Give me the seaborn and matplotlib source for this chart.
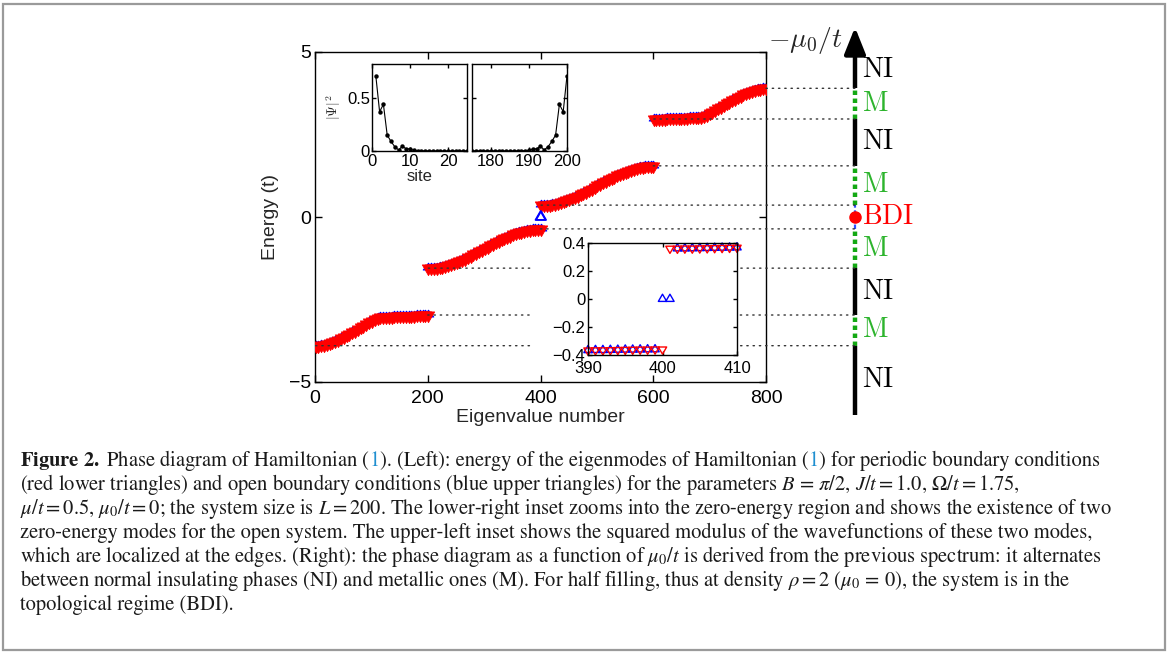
import matplotlib
matplotlib.use("Agg")
import matplotlib.pyplot as plt
import seaborn as sns
import numpy as np
import pandas as pd
from matplotlib.patches import ConnectionPatch, Rectangle
from matplotlib.path import Path
from matplotlib.ticker import FuncFormatter

# ---------------- data ----------------
band1_n = list(range(1, 197, 5)) + [200]
band1_E = [-3.90, -3.90, -3.89, -3.87, -3.85, -3.83, -3.80, -3.76, -3.72, -3.68,
           -3.64, -3.59, -3.54, -3.49, -3.44, -3.39, -3.34, -3.29, -3.24, -3.19,
           -3.15, -3.10, -3.06, -3.04, -3.03, -3.02, -3.02, -3.02, -3.01, -3.01,
           -3.00, -3.00, -3.00, -2.99, -2.99, -2.99, -2.98, -2.98, -2.98, -2.97, -2.97]
band2_n = list(range(201, 397, 5)) + [400]
band2_E = [-1.550, -1.547, -1.541, -1.531, -1.518, -1.501, -1.481, -1.457, -1.431, -1.401,
           -1.369, -1.334, -1.297, -1.258, -1.217, -1.174, -1.130, -1.085, -1.039, -0.992,
           -0.946, -0.899, -0.853, -0.807, -0.762, -0.719, -0.677, -0.636, -0.598, -0.562,
           -0.528, -0.497, -0.468, -0.443, -0.421, -0.402, -0.386, -0.374, -0.366, -0.361, -0.360]
band3_n = list(range(401, 597, 5)) + [600]
band3_E = [0.360, 0.362, 0.367, 0.376, 0.389, 0.405, 0.425, 0.448, 0.474, 0.503,
           0.535, 0.569, 0.605, 0.644, 0.685, 0.728, 0.771, 0.816, 0.862, 0.908,
           0.955, 1.001, 1.048, 1.094, 1.139, 1.183, 1.225, 1.266, 1.305, 1.341,
           1.375, 1.407, 1.436, 1.462, 1.486, 1.505, 1.522, 1.534, 1.543, 1.548, 1.550]
band4_n = [601] + list(range(605, 800, 5)) + [800]
band4_E = [2.97, 2.97, 2.98, 2.98, 2.98, 2.99, 2.99, 2.99, 3.00, 3.00,
           3.00, 3.01, 3.01, 3.02, 3.02, 3.02, 3.03, 3.04, 3.06, 3.10,
           3.15, 3.19, 3.24, 3.29, 3.34, 3.39, 3.44, 3.49, 3.54, 3.59,
           3.64, 3.68, 3.72, 3.76, 3.80, 3.83, 3.85, 3.87, 3.89, 3.90, 3.90]

# open-boundary zero modes
zero_n = [400, 401]
zero_E = [0.0, 0.0]

# lower-right inset (eigenvalues 390..410)
pbc_zoom_n = list(range(390, 411))
pbc_zoom_E = [-0.367, -0.366, -0.366, -0.365, -0.364, -0.363, -0.362, -0.361, -0.361, -0.360, -0.360,
              0.360, 0.360, 0.361, 0.361, 0.362, 0.363, 0.364, 0.365, 0.366, 0.367]
obc_zoom_n = list(range(390, 411))
obc_zoom_E = [-0.366, -0.365, -0.365, -0.364, -0.363, -0.362, -0.362, -0.361, -0.360, -0.360,
              0.0, 0.0,
              0.361, 0.361, 0.362, 0.363, 0.364, 0.365, 0.366, 0.367, 0.368]

# upper-left inset: |Psi|^2 of the two zero modes
site_left = list(range(1, 26))
psi_left = [0.71, 0.37, 0.44, 0.15, 0.09, 0.04, 0.01, 0.045, 0.02, 0.02,
            0.005, 0.003, 0.002, 0.001, 0.001, 0.0, 0.0, 0.0, 0.0, 0.0,
            0.0, 0.0, 0.0, 0.0, 0.0]
site_right = list(range(175, 201))
psi_right = [0.0, 0.0, 0.0, 0.0, 0.0, 0.0, 0.0, 0.0, 0.0, 0.0,
             0.0, 0.001, 0.001, 0.002, 0.003, 0.005, 0.02, 0.02, 0.045, 0.01,
             0.04, 0.09, 0.15, 0.44, 0.37, 0.71]

main_xticks = [0, 200, 400, 600, 800]
main_yticks = [-5, 0, 5]
zoom_xticks = [390, 400, 410]
zoom_yticks = [-0.4, -0.2, 0, 0.2, 0.4]

phase_labels = ["NI", "M", "NI", "M", "BDI", "M", "NI", "M", "NI"]

caption_lines = [
    [(r"$\mathbf{Figure\ 2.}$ Phase diagram of Hamiltonian (", "k"), ("1", "#1f8fd0"),
     ("). (Left): energy of the eigenmodes of Hamiltonian (", "k"), ("1", "#1f8fd0"),
     (") for periodic boundary conditions", "k")],
    [(r"(red lower triangles) and open boundary conditions (blue upper triangles) for the parameters $B\,=\,\pi/2$, $J/t=1.0$, $\Omega/t=1.75$,", "k")],
    [(r"$\mu/t=0.5$, $\mu_0/t=0$; the system size is $L=200$. The lower-right inset zooms into the zero-energy region and shows the existence of two", "k")],
    [("zero-energy modes for the open system. The upper-left inset shows the squared modulus of the wavefunctions of these two modes,", "k")],
    [(r"which are localized at the edges. (Right): the phase diagram as a function of $\mu_0/t$ is derived from the previous spectrum: it alternates", "k")],
    [(r"between normal insulating phases (NI) and metallic ones (M). For half filling, thus at density $\rho=2$ ($\mu_0\,=\,0$), the system is in the", "k")],
    [("topological regime (BDI).", "k")],
]

# ---------------- style ----------------
sns.set_theme(style="white")
plt.rcParams["font.family"] = ["Liberation Sans", "DejaVu Sans"]
plt.rcParams.update({
    "mathtext.fontset": "stix",
    "xtick.direction": "in", "ytick.direction": "in",
    "xtick.top": True, "ytick.right": True,
    "xtick.bottom": True, "ytick.left": True,
    "axes.edgecolor": "black", "axes.linewidth": 1.0,
    "xtick.color": "black", "ytick.color": "black",
})

W, H = 1168, 655
fig = plt.figure(figsize=(W / 100, H / 100), dpi=100)
fig.patch.set_facecolor("white")

def fx(px):
    return px / W

def fy(py):
    return 1 - py / H

BLUE = "#0000ff"
RED = "#ff0000"
GREEN = "#13a813"

# triangles positioned on their centroid (like the original plotting program)
up_tri = Path([(-0.866, -0.5), (0.866, -0.5), (0.0, 1.0), (-0.866, -0.5)], closed=True)
down_tri = Path([(-0.866, 0.5), (0.866, 0.5), (0.0, -1.0), (-0.866, 0.5)], closed=True)
up_tri_main = Path([(-1.0, -0.29), (1.0, -0.29), (0.0, 1.0), (-1.0, -0.29)], closed=True)

# ---------------- main axes ----------------
ax_l, ax_b, ax_w, ax_h = fx(315), fy(382), (766 - 315) / W, (382 - 52) / H
ax = fig.add_axes([ax_l, ax_b, ax_w, ax_h])
ax.set_zorder(0)

bands = pd.DataFrame({
    "n": band1_n + band2_n + band3_n + band4_n,
    "E": band1_E + band2_E + band3_E + band4_E,
})
sns.scatterplot(data=bands, x="n", y="E", ax=ax, marker=up_tri_main, s=60,
                color=BLUE, edgecolor=BLUE, linewidth=0.6, zorder=2)
sns.scatterplot(data=bands, x="n", y="E", ax=ax, marker=down_tri, s=105,
                color=RED, edgecolor=RED, linewidth=0.6, zorder=3)
sns.scatterplot(x=zero_n, y=zero_E, ax=ax, marker=up_tri, s=70,
                color=BLUE, facecolors="none", edgecolor=BLUE, linewidth=1.2, zorder=3)

ax.set_xlim(0, 800)
ax.set_ylim(-5, 5)
ax.set_xticks(main_xticks)
ax.set_yticks(main_yticks)
ax.tick_params(axis="x", labelsize=14, length=5, width=1, pad=6)
ax.tick_params(axis="y", labelsize=14, length=5, width=1, pad=3)
ax.set_xlabel("Eigenvalue number", fontsize=14, labelpad=1)
ax.set_ylabel("Energy (t)", fontsize=14, labelpad=7)
for s in ax.spines.values():
    s.set_linewidth(1.0)

# ---------------- phase-diagram axis ----------------
axp = fig.add_axes([fx(855), ax_b, 0.05, ax_h], sharey=ax)
axp.set_xlim(0, 1)
axp.axis("off")

edges_n = [band1_n[0], band1_n[-1], band2_n[0], band2_n[-1],
           band3_n[0], band3_n[-1], band4_n[0], band4_n[-1]]
edges_E = [band1_E[0], band1_E[-1], band2_E[0], band2_E[-1],
           band3_E[0], band3_E[-1], band4_E[0], band4_E[-1]]

bottom_E, top_line_E, tip_E = -6.0, 5.05, 5.75
bounds = [bottom_E] + edges_E + [5.0]
kinds = ["NI", "M", "NI", "M", "GAP", "M", "NI", "M", "NI"]

for i, kind in enumerate(kinds):
    lo, hi = bounds[i], bounds[i + 1]
    if kind == "NI":
        if i == len(kinds) - 1:
            hi = top_line_E
        axp.plot([0, 0], [lo, hi], color="black", lw=3.2, solid_capstyle="butt",
                 clip_on=False, zorder=2)
    elif kind == "M":
        axp.plot([0, 0], [lo, hi], color=GREEN, lw=3.2, dashes=(1.0, 0.8),
                 dash_capstyle="butt", clip_on=False, zorder=2)
    else:
        axp.plot([0, 0], [lo, hi], color="#3050ff", lw=1.6, dashes=(2.0, 1.2),
                 clip_on=False, zorder=2)

axp.annotate("", xy=(0, tip_E), xytext=(0, 4.9),
             arrowprops=dict(arrowstyle="-|>,head_length=0.8,head_width=0.32",
                             color="black", lw=3.2, mutation_scale=20,
                             shrinkA=0, shrinkB=0),
             annotation_clip=False)
axp.plot([0], [0], marker="o", ms=8, color=RED, clip_on=False, zorder=4)

label_colors = {"NI": "black", "M": "#2db42d", "BDI": RED}
label_y = []
for i, kind in enumerate(kinds):
    lo, hi = bounds[i], bounds[i + 1]
    label_y.append(0.5 * (lo + hi) if kind != "GAP" else 0.0)
for lab, yv in zip(phase_labels, label_y):
    axp.annotate(r"$\mathrm{%s}$" % lab, xy=(0, yv), xytext=(5, 0),
                 textcoords="offset points", ha="left", va="center",
                 fontsize=20, color=label_colors[lab], math_fontfamily="cm",
                 annotation_clip=False)
axp.annotate(r"$-\mu_0/t$", xy=(0, 5.36), xytext=(-9, 0), textcoords="offset points",
             ha="right", va="center", fontsize=20, math_fontfamily="cm",
             annotation_clip=False)

# dotted connecting lines
for n0, e in zip(edges_n, edges_E):
    con = ConnectionPatch(xyA=(n0, e), coordsA=ax.transData,
                          xyB=(0, e), coordsB=axp.transData,
                          color="#333333", lw=1.0, linestyle=(0, (1, 3.5)),
                          zorder=0.6)
    fig.add_artist(con)

# ---------------- lower-right inset ----------------
fig.add_artist(Rectangle((fx(533), fy(360)), (590 - 533) / W, (360 - 238) / H,
                         transform=fig.transFigure, facecolor="white",
                         edgecolor="none", zorder=1.5))
axz = fig.add_axes([fx(588), fy(355), (737 - 588) / W, (355 - 243) / H])
axz.set_zorder(2)
axz.set_facecolor("white")
sns.scatterplot(x=obc_zoom_n, y=obc_zoom_E, ax=axz, marker=up_tri, s=48,
                color=BLUE, facecolors="none", edgecolor=BLUE, linewidth=1.0, clip_on=False)
sns.scatterplot(x=pbc_zoom_n, y=pbc_zoom_E, ax=axz, marker=down_tri, s=48,
                color=RED, facecolors="none", edgecolor=RED, linewidth=1.0, clip_on=False)
axz.set_xlim(390, 410)
axz.set_ylim(-0.4, 0.4)
axz.set_xticks(zoom_xticks)
axz.set_yticks(zoom_yticks)
axz.yaxis.set_major_formatter(FuncFormatter(lambda v, p: ("%g" % v).replace("-", "\u2212")))
axz.tick_params(axis="y", labelsize=12, length=3, width=1, pad=2)
axz.tick_params(axis="x", labelsize=12, length=3, width=1, pad=4)

# ---------------- upper-left insets ----------------
ins_b, ins_h = fy(151), (151 - 64) / H
axw1 = fig.add_axes([fx(372), ins_b, 95 / W, ins_h])
axw2 = fig.add_axes([fx(472), ins_b, 95 / W, ins_h])
for a in (axw1, axw2):
    a.set_zorder(2)
    a.set_facecolor("white")
sns.lineplot(x=site_left, y=psi_left, ax=axw1, color="black", lw=0.8,
             marker="o", markersize=3.2, markeredgecolor="black", markeredgewidth=0)
sns.lineplot(x=site_right, y=psi_right, ax=axw2, color="black", lw=0.8,
             marker="o", markersize=3.2, markeredgecolor="black", markeredgewidth=0)
axw1.set_xlim(0, 25)
axw2.set_xlim(175, 200)
for a in (axw1, axw2):
    a.set_ylim(0, 0.82)
    a.set_yticks([0, 0.5])
    a.tick_params(axis="y", labelsize=12, length=3, width=1, pad=1.5)
    a.tick_params(axis="x", labelsize=12, length=3, width=1, pad=2.5)
axw1.set_xticks([0, 10, 20])
axw2.set_xticks([180, 190, 200])
axw1.yaxis.set_major_formatter(FuncFormatter(lambda v, p: "%g" % v))
axw2.tick_params(labelleft=False)
axw1.set_xlabel("site", fontsize=12, labelpad=0)
axw1.set_ylabel(r"$|\Psi|^2$", fontsize=10, labelpad=3, math_fontfamily="cm")

# ---------------- caption ----------------
renderer = fig.canvas.get_renderer()
cap_fs = 14.8
for k, pieces in enumerate(caption_lines):
    xp = 20.0
    yp = 466 + 24 * k
    for txt, col in pieces:
        t = fig.text(fx(xp), fy(yp), txt, color=col, fontsize=cap_fs,
                     family="STIXGeneral", va="baseline", ha="left")
        xp += t.get_window_extent(renderer=renderer).width

# frame around the figure
fig.add_artist(Rectangle((fx(3), fy(650)), 1162 / W, 646 / H, transform=fig.transFigure,
                         fill=False, edgecolor="#9a9a9a", lw=1.6, zorder=10))

fig.savefig("out.png", dpi=100, facecolor="white")
